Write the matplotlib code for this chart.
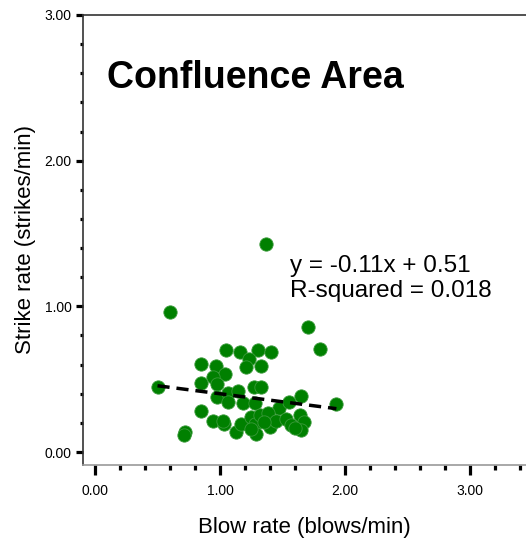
import matplotlib
matplotlib.use("Agg")
import matplotlib.pyplot as plt
from matplotlib.ticker import MultipleLocator, FormatStrFormatter

plt.rcParams['font.family'] = ['Liberation Sans', 'DejaVu Sans']

blow_rate = [1.37, 0.60, 1.70, 1.80, 1.048, 1.163, 1.30, 1.41, 1.23, 1.21, 1.33,
             0.85, 0.966, 1.04, 0.947, 0.973, 0.85, 0.50, 1.275, 1.33, 0.973, 1.06,
             1.147, 1.06, 1.187, 1.28, 1.47, 1.55, 1.65, 1.93, 0.85, 0.947, 1.035,
             1.02, 1.128, 1.17, 1.25, 1.28, 1.286, 1.32, 1.38, 1.40, 1.45, 1.53,
             1.57, 1.64, 1.67, 1.65, 1.60, 0.72, 0.71, 1.25, 1.35]
strike_rate = [1.43, 0.96, 0.86, 0.71, 0.70, 0.688, 0.70, 0.69, 0.636, 0.585, 0.59,
               0.606, 0.59, 0.537, 0.517, 0.465, 0.474, 0.444, 0.446, 0.446, 0.38, 0.407,
               0.419, 0.343, 0.334, 0.338, 0.304, 0.345, 0.382, 0.327, 0.281, 0.215, 0.192,
               0.215, 0.135, 0.19, 0.24, 0.19, 0.124, 0.254, 0.265, 0.174, 0.215, 0.23,
               0.185, 0.254, 0.208, 0.151, 0.162, 0.139, 0.117, 0.155, 0.208]

slope = -0.11
intercept = 0.51
r_squared = 0.018
fit_x = [min(blow_rate), max(blow_rate)]

fig = plt.figure(figsize=(5.26, 5.42), dpi=100)
ax = fig.add_axes([82.7 / 526, 1 - 465 / 542, 1 - 82.7 / 526 + 0.001, (465 - 15) / 542])

ax.scatter(blow_rate, strike_rate, s=92, color='#008000', edgecolors='#3a9a3a',
           linewidths=0.6, zorder=3)
ax.plot(fit_x, [slope * v + intercept for v in fit_x], linestyle=(0, (3.5, 2)),
        color='black', linewidth=2.5, zorder=4)

ax.set_xlim(-0.098, 3.45)
ax.set_ylim(-0.089, 3.0)

ax.xaxis.set_major_locator(MultipleLocator(1.0))
ax.xaxis.set_minor_locator(MultipleLocator(0.2))
ax.yaxis.set_major_locator(MultipleLocator(1.0))
ax.yaxis.set_minor_locator(MultipleLocator(0.2))
ax.xaxis.set_major_formatter(FormatStrFormatter('%.2f'))
ax.yaxis.set_major_formatter(FormatStrFormatter('%.2f'))

ax.tick_params(axis='x', which='major', direction='out', length=7.5, width=2.3,
               labelsize=10, pad=6, color='black')
ax.tick_params(axis='x', which='minor', direction='out', length=3.5, width=2.3,
               color='black')
ax.tick_params(axis='y', which='major', direction='out', length=5, width=2.3,
               labelsize=10, pad=3, color='black')
ax.tick_params(axis='y', which='minor', direction='out', length=2.2, width=2.3,
               color='black')

ax.spines['right'].set_visible(False)
ax.spines['top'].set_color('#333333')
ax.spines['left'].set_color('#333333')
ax.spines['bottom'].set_color('#999999')
for s in ['top', 'left', 'bottom']:
    ax.spines[s].set_linewidth(1.2)

ax.set_xlabel('Blow rate (blows/min)', fontsize=16, labelpad=14)
ax.set_ylabel('Strike rate (strikes/min)', fontsize=16, labelpad=6)

fig.text(107 / 526, 1 - 78 / 542, 'Confluence Area', fontsize=27, fontweight='bold',
         ha='left', va='center')
fig.text(290 / 526, 1 - 266 / 542, 'y = %.2fx + %.2f' % (slope, intercept),
         fontsize=17.5, ha='left', va='center')
fig.text(290 / 526, 1 - 291 / 542, 'R-squared = %.3f' % r_squared,
         fontsize=17.5, ha='left', va='center')

fig.savefig('out.png', dpi=100)
